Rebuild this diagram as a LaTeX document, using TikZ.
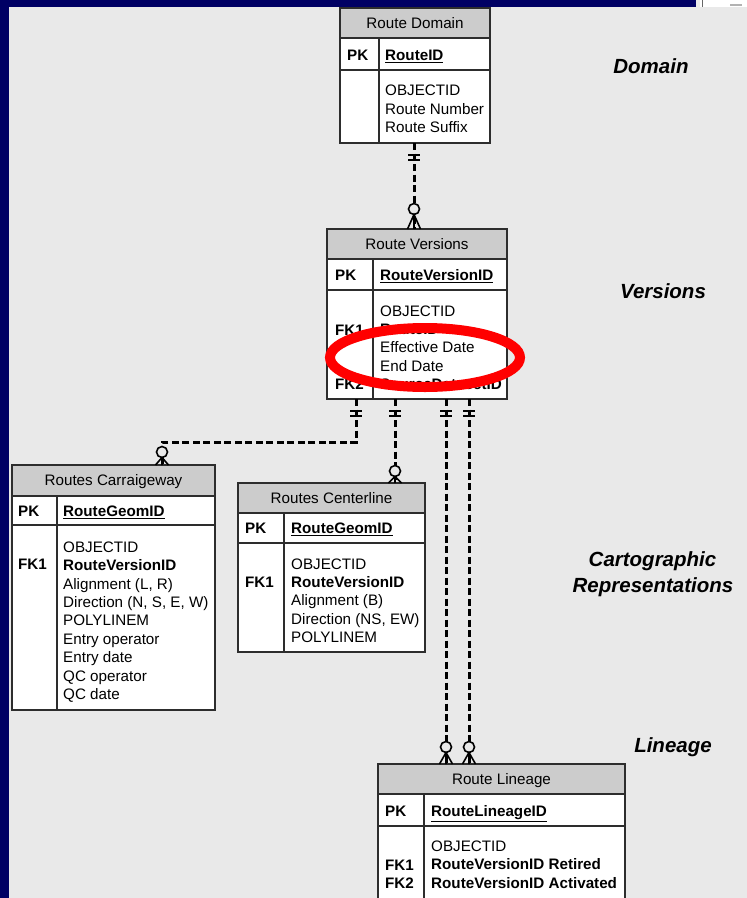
\documentclass[tikz,border=0pt]{standalone}
\usepackage{fontspec}
\setmainfont{Liberation Sans}
\usetikzlibrary{fit}
\definecolor{navy}{RGB}{0,0,100}
\definecolor{bgc}{RGB}{233,233,233}
\definecolor{hdr}{RGB}{204,204,204}
\definecolor{edgec}{RGB}{45,45,45}

\tikzset{
  tline/.style={draw=edgec, line width=1.2pt},
  tframe/.style={draw=edgec, line width=1.3pt, inner sep=0pt, outer sep=0pt},
  ttext/.style={font=\fontsize{15.2}{18}\selectfont, inner sep=0pt, text height=10.7pt, text depth=0pt},
  sect/.style={font=\fontsize{20.5}{24}\selectfont\bfseries\itshape, inner sep=0pt, anchor=base},
  conn/.style={draw=black, line width=3pt, dash pattern=on 7pt off 3.5pt},
  markline/.style={draw=black, line width=1.6pt},
  crow/.pic={
    \fill[bgc] (0,-#1) circle (5.5pt);
    \draw[markline] (0,-#1) circle (5.5pt);
    \draw[markline] (-6.5,0) -- (0,{-#1+5.5}) -- (6.5,0) (0,0) -- (0,{-#1+5.5});
  },
  oneone/.pic={\draw[markline, line width=1.8pt] (-6,12) -- (6,12) (-6,17) -- (6,17);}
}

% name, L, R, T, H, P, B, D, title
\newcommand\ertable[9]{%
  \fill[white] (#2,#4) rectangle (#3,#7);
  \fill[hdr] (#2,#4) rectangle (#3,#5);
  \draw[tline] (#2,#5) -- (#3,#5) (#2,#6) -- (#3,#6) (#8,#5) -- (#8,#7);
  \node[tframe, fit={(#2,#4) (#3,#7)}] (#1) {};
  \node[ttext, anchor=center] (#1-title) at ({(#2+#3)/2},{(#4+#5)/2}) {#9};
}
% name, x, y0, step, list
\newcommand\erfields[5]{%
  \foreach \fld [count=\i from 0] in {#5} {\node[ttext, anchor=west] (#1-\i) at (#2,{#3+#4*\i}) {\fld};}
}

\begin{document}
\begin{tikzpicture}[x=1pt,y=-1pt]
\useasboundingbox (0,0) rectangle (747,898);
% background
\fill[navy] (0,0) rectangle (747,898);
\fill[bgc] (9,7) rectangle (747,898);
\fill[white] (700,0) rectangle (747,7);
\fill[bgc] (696,0) rectangle (700,7);
\draw[black!60, line width=1pt] (702,0) -- (702,7);
\fill[black!30] (730,4) rectangle (742,6);

% ---------- Route Domain
\ertable{dom}{340}{490}{8}{38}{70}{143}{379}{Route Domain}
\node[ttext, anchor=west] (dom-pk) at (347,55) {\textbf{PK}};
\node[ttext, anchor=west] (dom-key) at (385,55) {\underline{\textbf{RouteID}}};
\erfields{domf}{385}{90}{18.7}{OBJECTID,Route Number,Route Suffix}

% ---------- Route Versions
\ertable{ver}{327}{507}{229}{259}{290}{399}{373}{Route Versions}
\node[ttext, anchor=west] (ver-pk) at (335,275) {\textbf{PK}};
\node[ttext, anchor=west] (ver-key) at (380,275) {\underline{\textbf{RouteVersionID}}};
\node[ttext, anchor=west] (ver-fk1) at (335,330) {\textbf{FK1}};
\node[ttext, anchor=west] (ver-fk2) at (335,384) {\textbf{FK2}};
\erfields{verf}{380}{311}{18.25}{OBJECTID,\textbf{RouteID},Effective Date,End Date,\textbf{SourceDatasetID}}

% ---------- Routes Carraigeway
\ertable{car}{12}{215}{465}{496}{525}{710}{57}{Routes Carraigeway}
\node[ttext, anchor=west] (car-pk) at (18,511) {\textbf{PK}};
\node[ttext, anchor=west] (car-key) at (63,511) {\underline{\textbf{RouteGeomID}}};
\node[ttext, anchor=west] (car-fk1) at (18,564) {\textbf{FK1}};
\erfields{carf}{63}{547}{18.4}{OBJECTID,\textbf{RouteVersionID},{Alignment (L, R)},{Direction (N, S, E, W)},POLYLINEM,Entry operator,Entry date,QC operator,QC date}

% ---------- Routes Centerline
\ertable{cen}{238}{425}{483}{513}{543}{652}{284}{Routes Centerline}
\node[ttext, anchor=west] (cen-pk) at (245,528) {\textbf{PK}};
\node[ttext, anchor=west] (cen-key) at (291,528) {\underline{\textbf{RouteGeomID}}};
\node[ttext, anchor=west] (cen-fk1) at (245,582) {\textbf{FK1}};
\erfields{cenf}{291}{564}{18.25}{OBJECTID,\textbf{RouteVersionID},Alignment (B),{Direction (NS, EW)},POLYLINEM}

% ---------- Route Lineage
\ertable{lin}{378}{625}{764}{794}{826}{915}{424}{Route Lineage}
\node[ttext, anchor=west] (lin-pk) at (385,811) {\textbf{PK}};
\node[ttext, anchor=west] (lin-key) at (431,811) {\underline{\textbf{RouteLineageID}}};
\node[ttext, anchor=west] (lin-fk1) at (385,865) {\textbf{FK1}};
\node[ttext, anchor=west] (lin-fk2) at (385,883) {\textbf{FK2}};
\erfields{linf}{431}{846}{18.5}{OBJECTID,\textbf{RouteVersionID Retired},\textbf{RouteVersionID Activated}}

% ---------- connectors
\draw[conn] ([xshift=74pt]dom.south west) -- ([xshift=87pt]ver.north west);
\draw[conn] ([xshift=29pt]ver.south west) -- ++(0,43) -| ([xshift=150pt]car.north west);
\draw[conn] ([xshift=68pt]ver.south west) -- ([xshift=157pt]cen.north west);
\draw[conn] ([xshift=119pt]ver.south west) -- ([xshift=68pt]lin.north west);
\draw[conn] ([xshift=142pt]ver.south west) -- ([xshift=91pt]lin.north west);

\pic at ([xshift=74pt]dom.south west) {oneone};
\pic at ([xshift=29pt]ver.south west) {oneone};
\pic at ([xshift=68pt]ver.south west) {oneone};
\pic at ([xshift=119pt]ver.south west) {oneone};
\pic at ([xshift=142pt]ver.south west) {oneone};

\pic at ([xshift=87pt]ver.north west) {crow=20};
\pic at ([xshift=150pt]car.north west) {crow=13};
\pic at ([xshift=157pt]cen.north west) {crow=12};
\pic at ([xshift=68pt]lin.north west) {crow=17};
\pic at ([xshift=91pt]lin.north west) {crow=17};

% ---------- highlight
\draw[red, line width=10pt] (425,357.5) ellipse [x radius=95pt, y radius=29.5pt];

% ---------- section labels
\node[sect] (sdomain) at (651,73) {Domain};
\node[sect] (sversions) at (663,298) {Versions};
\node[sect] (scarto) at (652.5,566) {Cartographic};
\node[sect] (srep) at (653,592) {Representations};
\node[sect] (slineage) at (673,752) {Lineage};
\end{tikzpicture}
\end{document}
